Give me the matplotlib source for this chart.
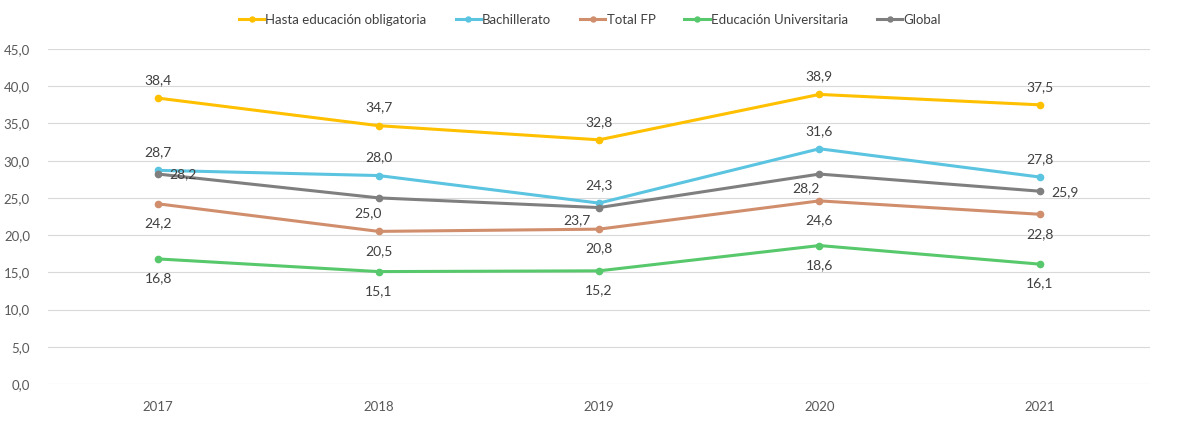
import matplotlib.pyplot as plt

plt.rcParams['font.family'] = ['Lato', 'DejaVu Sans']

years = ["2017", "2018", "2019", "2020", "2021"]
obligatoria = [38.4, 34.7, 32.8, 38.9, 37.5]
bachillerato = [28.7, 28.0, 24.3, 31.6, 27.8]
total_fp = [24.2, 20.5, 20.8, 24.6, 22.8]
universitaria = [16.8, 15.1, 15.2, 18.6, 16.1]
global_ = [28.2, 25.0, 23.7, 28.2, 25.9]

series = [
    ("Hasta educación obligatoria", obligatoria, "#FFC000"),
    ("Bachillerato", bachillerato, "#5BC4E0"),
    ("Total FP", total_fp, "#D08E6D"),
    ("Educación Universitaria", universitaria, "#57C86B"),
    ("Global", global_, "#7F7F7F"),
]

# label offsets in points (dx, dy) per series
offsets = {
    "Hasta educación obligatoria": [(0, 13)] * 5,
    "Bachillerato": [(0, 13)] * 5,
    "Total FP": [(0, -14)] * 5,
    "Educación Universitaria": [(0, -14)] * 5,
    "Global": [(18, 0), (-8, -11), (-16, -9), (-10, -10), (18, -1)],
}

fig = plt.figure(figsize=(11.8, 4.26), dpi=100)
ax = fig.add_axes([48 / 1180, 1 - 384 / 426, 1102 / 1180, 335 / 426])

x = list(range(len(years)))
for name, vals, col in series:
    ax.plot(x, vals, color=col, lw=2.2, marker="o", ms=4.5, label=name, zorder=3)
    for i, v in enumerate(vals):
        dx, dy = offsets[name][i]
        ax.annotate(f"{v:.1f}".replace(".", ","), (i, v), xytext=(dx, dy),
                    textcoords="offset points", ha="center", va="center",
                    fontsize=10, color="#404040")

ax.set_xlim(-0.5, 4.5)
ax.set_ylim(0, 45)
ax.set_yticks([i * 5 for i in range(10)])
ax.set_yticklabels([f"{i * 5},0" for i in range(10)])
ax.set_xticks(x)
ax.set_xticklabels(years)
ax.grid(axis="y", color="#D9D9D9", lw=0.8)
ax.set_axisbelow(True)
for s in ax.spines.values():
    s.set_visible(False)
ax.tick_params(length=0, labelsize=9.5, colors="#595959")
ax.tick_params(axis="y", pad=13)
ax.tick_params(axis="x", pad=12)

fig.legend(loc="center", bbox_to_anchor=(0.5, 1 - 20 / 426), ncol=5, frameon=False,
           fontsize=9.5, labelcolor="#404040", handlelength=1.9, handletextpad=0.1,
           columnspacing=2.2, markerscale=0.8)

fig.savefig("out.png", dpi=100)
